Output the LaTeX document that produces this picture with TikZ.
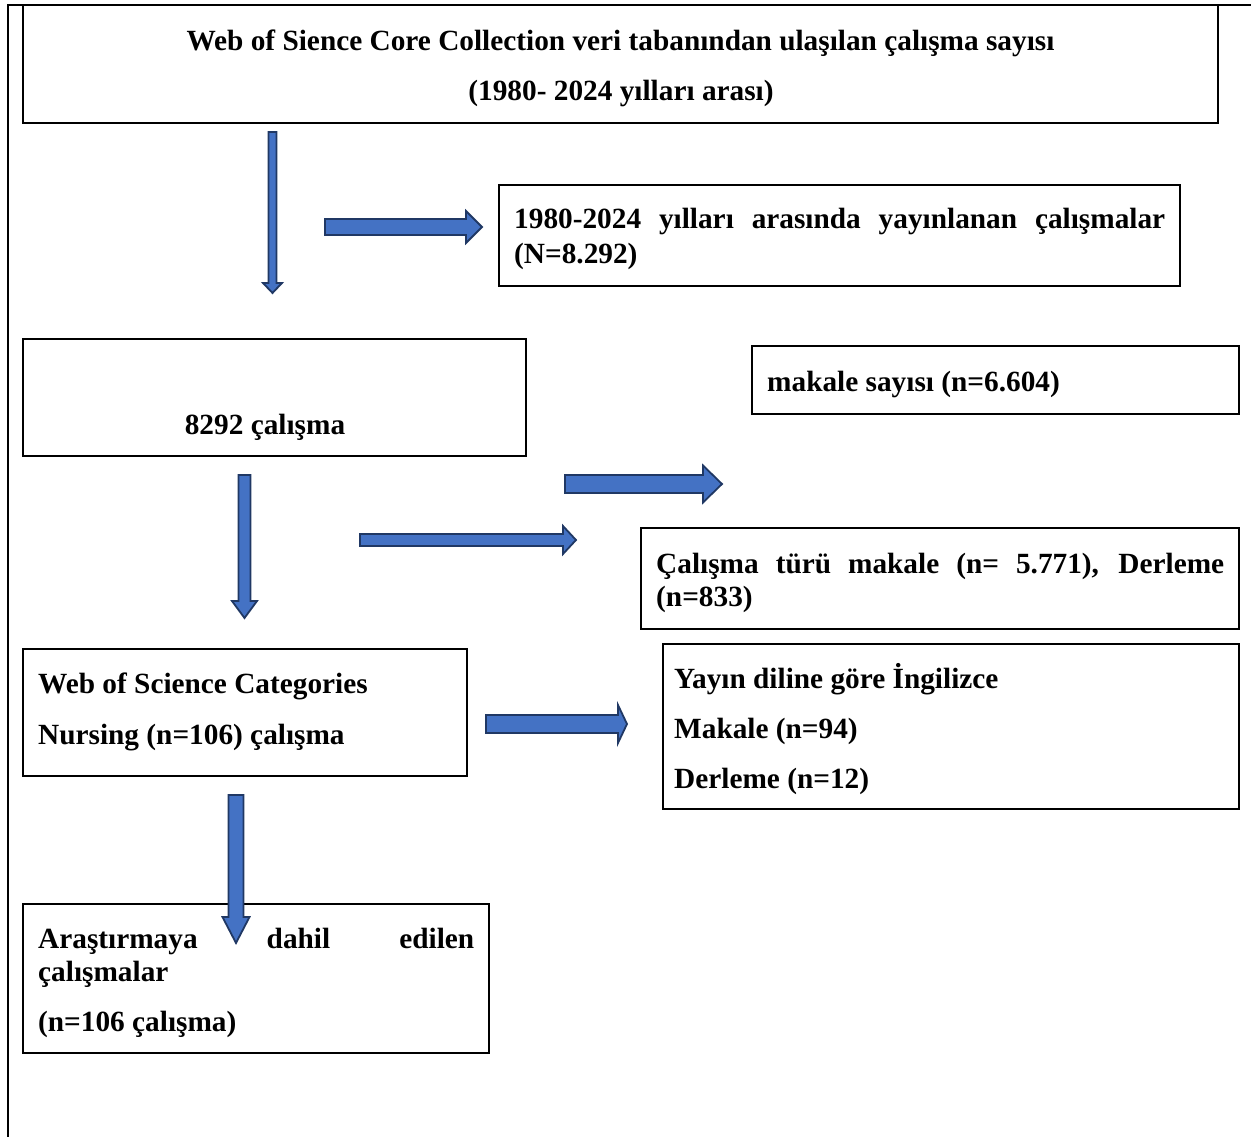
\documentclass[tikz,border=0pt]{standalone}
\usepackage{fontspec}
\setmainfont{Liberation Serif}
\definecolor{arrfill}{HTML}{4472C4}
\definecolor{arrline}{HTML}{203864}
\newcommand\BArrR[6]{% x1, xtip, y, shaft half, head half, head length
  \draw[blk] (#1,#3-#4) -- (#2-#6,#3-#4) -- (#2-#6,#3-#5) -- (#2,#3) -- (#2-#6,#3+#5) -- (#2-#6,#3+#4) -- (#1,#3+#4) -- cycle;}
\newcommand\BArrD[6]{% x, y1, ytip, shaft half, head half, head length
  \draw[blk] (#1-#4,#2) -- (#1+#4,#2) -- (#1+#4,#3-#6) -- (#1+#5,#3-#6) -- (#1,#3) -- (#1-#5,#3-#6) -- (#1-#4,#3-#6) -- cycle;}
\begin{document}
\begin{tikzpicture}[x=1pt,y=-1pt,
  box/.style={draw=black, line width=2.4pt, anchor=north west, inner sep=0pt, outer sep=0pt},
  txt/.style={anchor=base west, inner sep=0pt, font=\fontsize{29.3}{33}\selectfont\bfseries},
  ctxt/.style={txt, anchor=base},
  blk/.style={fill=arrfill, draw=arrline, line width=1.8pt, line join=miter}]
\useasboundingbox (0,0) rectangle (1251,1137);
\coordinate (fbot) at (8,1137);
\coordinate (fcorner) at (8,5);
\coordinate (fright) at (1251,5);
\draw[line width=2.4pt] (fbot) -- (fcorner) -- (fright);
% boxes
\node[box, minimum width=1195pt, minimum height=118pt] (b1) at (23,5) {};
\node[box, minimum width=681pt, minimum height=101pt] (b2) at (499,185) {};
\node[box, minimum width=503pt, minimum height=117pt] (b3) at (23,339) {};
\node[box, minimum width=487pt, minimum height=68pt] (b4) at (752,346) {};
\node[box, minimum width=598pt, minimum height=101pt] (b5) at (641,528) {};
\node[box, minimum width=444pt, minimum height=127pt] (b6) at (23,649) {};
\node[box, minimum width=576pt, minimum height=165pt] (b7) at (663,644) {};
\node[box, minimum width=466pt, minimum height=149pt] (b8) at (23,904) {};
% texts
\node[ctxt] (t1) at (620.5,51) {Web of Sience Core Collection veri tabanından ulaşılan çalışma sayısı};
\node[ctxt] (t2) at (621,101) {(1980- 2024 yılları arası)};
\node[txt] (t3) at (514,229) {\makebox[651pt][s]{1980-2024 yılları arasında yayınlanan çalışmalar}};
\node[txt] (t4) at (514,263) {(N=8.292)};
\node[ctxt] (t5) at (265,434) {8292 çalışma};
\node[txt] (t6) at (767,391) {makale sayısı (n=6.604)};
\node[txt] (t7) at (656,573) {\makebox[568pt][s]{Çalışma türü makale (n= 5.771), Derleme}};
\node[txt] (t8) at (656,606) {(n=833)};
\node[txt] (t9) at (38,693) {Web of Science Categories};
\node[txt] (t10) at (38,744) {Nursing (n=106) çalışma};
\node[txt] (t11) at (674,688) {Yayın diline göre İngilizce};
\node[txt] (t12) at (674,738) {Makale (n=94)};
\node[txt] (t13) at (674,788) {Derleme (n=12)};
\node[txt] (t14) at (38,948) {\makebox[436pt][s]{Araştırmaya dahil edilen}};
\node[txt] (t15) at (38,981) {çalışmalar};
\node[txt] (t16) at (38,1031) {(n=106 çalışma)};
% block arrows
\BArrD{272.5}{132}{293}{4}{9.5}{10}
\BArrR{325}{482}{227}{8}{16}{16}
\BArrR{565}{722}{484}{9}{18.5}{19}
\BArrR{360}{576}{540}{6}{14}{13}
\BArrD{244.5}{475}{618}{6}{12.5}{17}
\BArrR{486}{627}{724}{9}{19}{9}
\BArrD{236}{795}{943}{7.5}{13.5}{26}
\end{tikzpicture}
\end{document}
